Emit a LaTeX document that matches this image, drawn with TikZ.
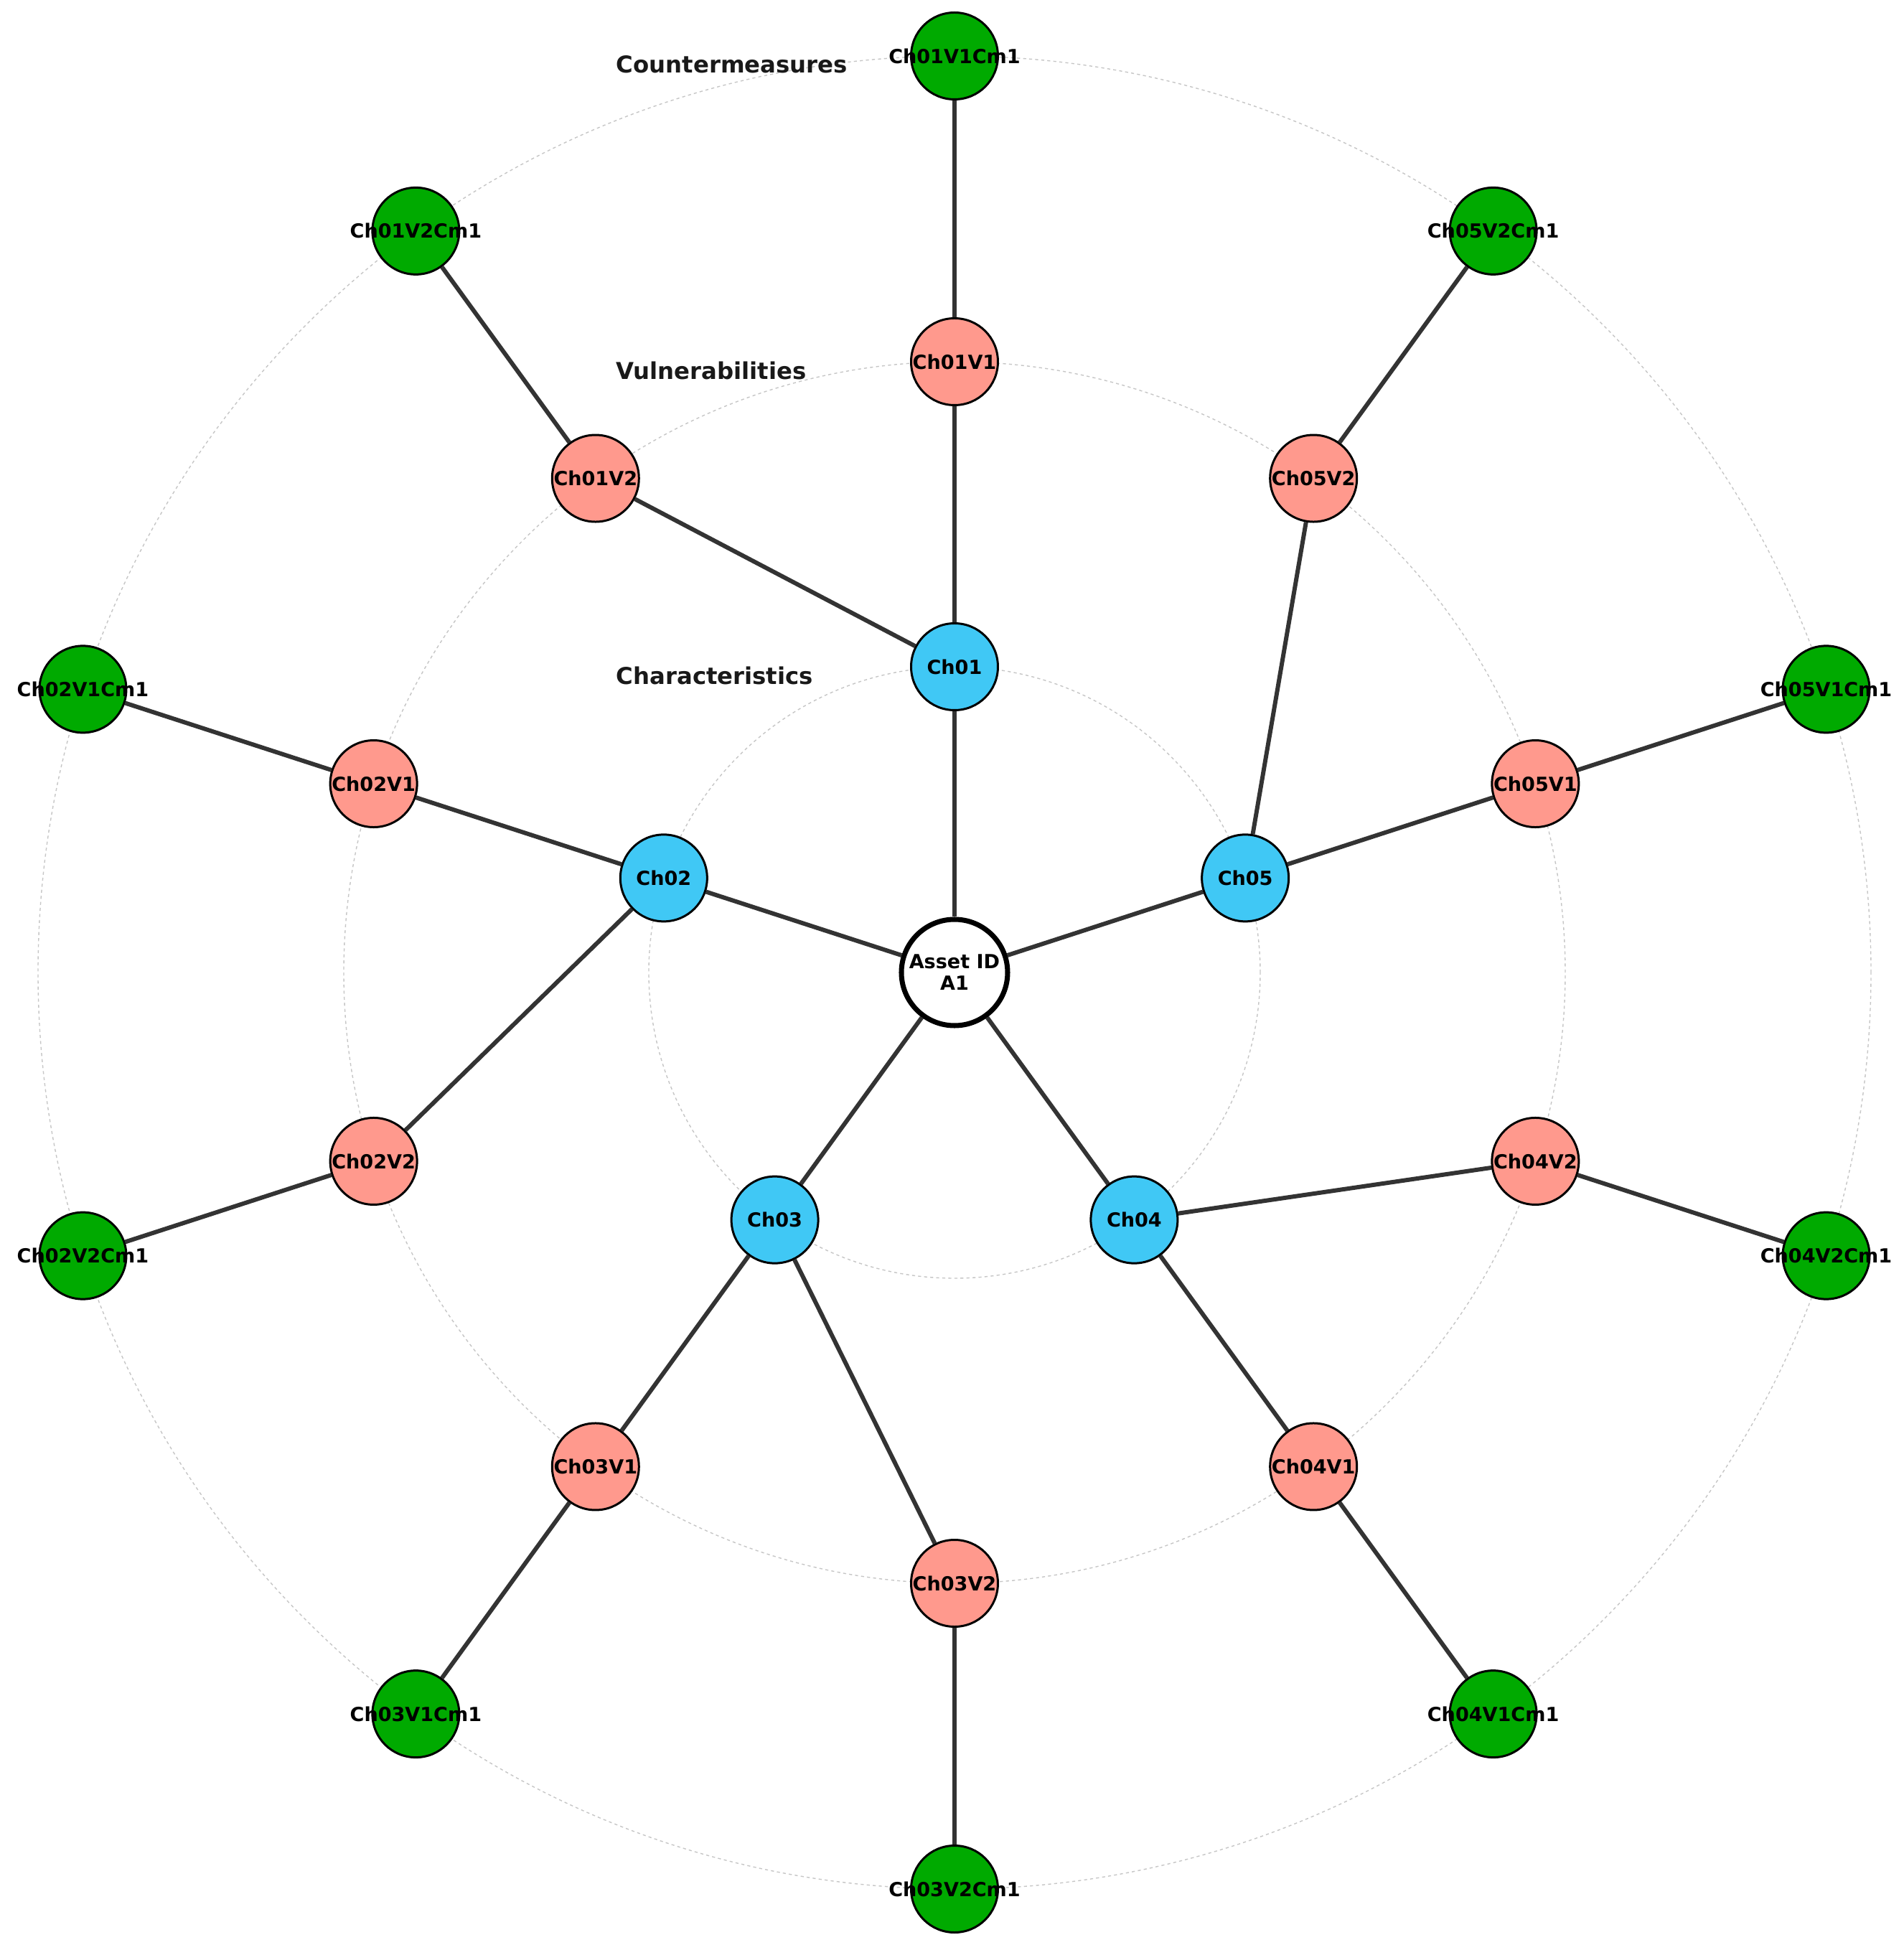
\documentclass[tikz,border=0pt]{standalone}
\usepackage{fontspec}
\setmainfont{DejaVu Sans}
\usetikzlibrary{backgrounds}
\definecolor{charBlue}{RGB}{64,200,245}
\definecolor{vulnPink}{RGB}{255,153,141}
\definecolor{cmGreen}{RGB}{0,170,0}
\definecolor{edgeGray}{RGB}{51,51,51}
\newcommand{\nodeText}[1]{\makebox[0pt]{#1}}
\begin{document}
\begin{tikzpicture}
[darkLine/.style={-,line width=1.7pt,color=edgeGray},%
  ringLine/.style={-,line width=0.4pt,color=gray!45,dash pattern=on 1.2pt off 1.2pt},%
  nodeDecorate/.style={shape=circle,inner sep=0pt,minimum size=1.21cm,draw,line width=0.85pt,%
    font=\fontsize{7.7}{8.5}\selectfont\bfseries},%
  charNode/.style={nodeDecorate,fill=charBlue},%
  vulnNode/.style={nodeDecorate,fill=vulnPink},%
  cmNode/.style={nodeDecorate,fill=cmGreen},%
  assetNode/.style={nodeDecorate,fill=white,line width=2pt,minimum size=1.48cm,align=center},%
  ringLabel/.style={anchor=west,inner sep=0pt,font=\fontsize{9.2}{10}\selectfont\bfseries,text=black!90}]
\useasboundingbox (-13.30,-13.55) rectangle (13.22,13.55);
%% asset in the middle
\node (A1) at (0,0) [assetNode] {Asset ID\\A1};
%% characteristics
\foreach \nodename/\a in {Ch01/90, Ch02/162, Ch03/234, Ch04/306, Ch05/18}
{
  \node (\nodename) at (\a:4.26) [charNode] {\nodeText{\nodename}};
}
%% vulnerabilities and countermeasures
\foreach \nodename/\a in {Ch01V1/90, Ch01V2/126, Ch02V1/162, Ch02V2/198, Ch03V1/234,
  Ch03V2/270, Ch04V1/306, Ch04V2/342, Ch05V1/18, Ch05V2/54}
{
  \node (\nodename) at (\a:8.51) [vulnNode] {\nodeText{\nodename}};
  \node (\nodename Cm1) at (\a:12.77) [cmNode] {\nodeText{\nodename Cm1}};
}
%% ring titles
\foreach \labelname/\r/\txt in {charTitle/4.26/Characteristics, vulnTitle/8.51/Vulnerabilities,
  cmTitle/12.77/Countermeasures}
{
  \node (\labelname) at (-4.72,\r-0.12) [ringLabel] {\txt};
}
\begin{scope}[on background layer]
%% rings
\foreach \r in {4.26, 8.51, 12.77}
{
  \draw[ringLine] (0,0) circle (\r);
}
%% edges
\path
\foreach \startnode/\endnode in {A1/Ch01, A1/Ch02, A1/Ch03, A1/Ch04, A1/Ch05,
  Ch01/Ch01V1, Ch01/Ch01V2, Ch02/Ch02V1, Ch02/Ch02V2, Ch03/Ch03V1, Ch03/Ch03V2,
  Ch04/Ch04V1, Ch04/Ch04V2, Ch05/Ch05V1, Ch05/Ch05V2}
{
  (\startnode) edge[darkLine] (\endnode)
};
\path
\foreach \startnode in {Ch01V1, Ch01V2, Ch02V1, Ch02V2, Ch03V1, Ch03V2, Ch04V1, Ch04V2, Ch05V1, Ch05V2}
{
  (\startnode) edge[darkLine] (\startnode Cm1)
};
\end{scope}
\end{tikzpicture}
\end{document}
